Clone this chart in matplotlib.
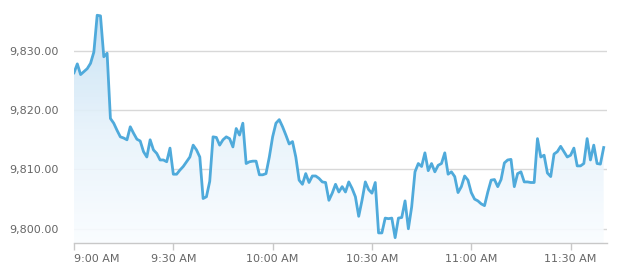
import numpy as np
import pandas as pd
import matplotlib
matplotlib.use("Agg")
import matplotlib.pyplot as plt
import matplotlib.dates as mdates
from matplotlib.colors import LinearSegmentedColormap

# ---- data (one reading per minute from 9:00 AM) ----
values = [
    9826.3, 9827.8, 9826.0, 9826.5, 9827.0, 9827.9, 9829.8, 9836.0, 9835.9, 9829.0,
    9829.6, 9818.6, 9817.8, 9816.6, 9815.5, 9815.3, 9815.0, 9817.2, 9816.1, 9815.1,
    9814.8, 9813.0, 9812.1, 9815.0, 9813.3, 9812.7, 9811.6, 9811.6, 9811.3, 9813.6,
    9809.2, 9809.2, 9809.9, 9810.5, 9811.3, 9812.1, 9814.1, 9813.3, 9812.1, 9805.1,
    9805.4, 9808.0, 9815.5, 9815.4, 9814.1, 9815.0, 9815.5, 9815.2, 9813.8, 9816.9,
    9815.8, 9817.8, 9811.0, 9811.3, 9811.4, 9811.4, 9809.1, 9809.1, 9809.3, 9812.1,
    9815.5, 9817.8, 9818.4, 9817.2, 9815.8, 9814.3, 9814.7, 9812.1, 9808.2, 9807.5,
    9809.3, 9807.8, 9808.9, 9808.9, 9808.5, 9807.9, 9807.8, 9804.8, 9806.0, 9807.5,
    9806.2, 9807.1, 9806.2, 9807.9, 9806.8, 9805.4, 9802.1, 9804.8, 9807.9, 9806.6,
    9806.0, 9807.8, 9799.3, 9799.3, 9801.8, 9801.7, 9801.8, 9798.5, 9801.8, 9801.9,
    9804.7, 9800.0, 9803.7, 9809.6, 9811.0, 9810.5, 9812.8, 9809.8, 9811.0, 9809.6,
    9810.7, 9811.0, 9812.8, 9809.2, 9809.6, 9808.8, 9806.1, 9807.1, 9808.9, 9808.2,
    9806.1, 9805.0, 9804.7, 9804.2, 9803.9, 9806.2, 9808.2, 9808.3, 9807.1, 9808.3,
    9811.1, 9811.6, 9811.7, 9807.1, 9809.3, 9809.6, 9807.9, 9807.9, 9807.8, 9807.8,
    9815.2, 9812.1, 9812.4, 9809.4, 9808.8, 9812.6, 9813.0, 9813.9, 9813.0, 9812.1,
    9812.4, 9813.6, 9810.6, 9810.6, 9811.0, 9815.2, 9811.6, 9814.1, 9811.0, 9810.9,
    9813.7,
]
start_time = "2020-01-02 09:00"
y_ticks = [9800, 9810, 9820, 9830]
x_tick_labels = ["9:00 AM", "9:30 AM", "10:00 AM", "10:30 AM", "11:00 AM", "11:30 AM"]
x_tick_times = ["09:00", "09:30", "10:00", "10:30", "11:00", "11:30"]

times = pd.date_range(start_time, periods=len(values), freq="min")
xt = [mdates.date2num(pd.Timestamp("2020-01-02 " + t)) for t in x_tick_times]
xnum = mdates.date2num(times)

W, H = 640, 272
fig = plt.figure(figsize=(W / 100, H / 100), dpi=100)
fig.patch.set_facecolor("white")
left, right, top, bottom = 74, 607, 3.4, 243
ax = fig.add_axes([left / W, (H - bottom) / H, (right - left) / W, (bottom - top) / H])

ymin, ymax = 9797.6, 9838.0
one_min = xnum[1] - xnum[0]
ax.set_xlim(xnum[0], xnum[0] + 161 * one_min)
ax.set_ylim(ymin, ymax)

# grid
for v in y_ticks:
    ax.axhline(v, color="#d8d8d8", lw=1.0, zorder=1)

# gradient fill
poly = ax.fill_between(xnum, values, ymin, color="none", lw=0, zorder=2)
cmap = LinearSegmentedColormap.from_list("g", ["#fafdff", "#e6f2fb", "#c3e0f4"])
grad = np.linspace(0, 1, 256).reshape(-1, 1)
img = ax.imshow(grad, cmap=cmap, aspect="auto", origin="lower",
                extent=[xnum[0], xnum[-1], ymin, 9836.0], zorder=2, alpha=0.9,
                interpolation="bilinear")
path = poly.get_paths()[0]
img.set_clip_path(path, transform=ax.transData)

ax.plot(xnum, values, color="#4faadb", lw=2.0, zorder=3, solid_joinstyle="round")

# axes styling
for s in ["top", "right", "left"]:
    ax.spines[s].set_visible(False)
ax.spines["bottom"].set_color("#c8c8c8")
ax.spines["bottom"].set_linewidth(1.0)

ax.set_yticks(y_ticks)
ax.set_yticklabels([f"{v:,.2f}" for v in y_ticks], color="#666666", fontsize=8)
ax.tick_params(axis="y", length=0, pad=11)

ax.set_xticks(xt)
ax.set_xticklabels(x_tick_labels, color="#666666", fontsize=8)
ax.tick_params(axis="x", length=5, color="#c8c8c8", width=1, pad=3)
lbls = ax.get_xticklabels()
lbls[0].set_horizontalalignment("left")

fig.savefig("out.png", dpi=100, facecolor="white")
